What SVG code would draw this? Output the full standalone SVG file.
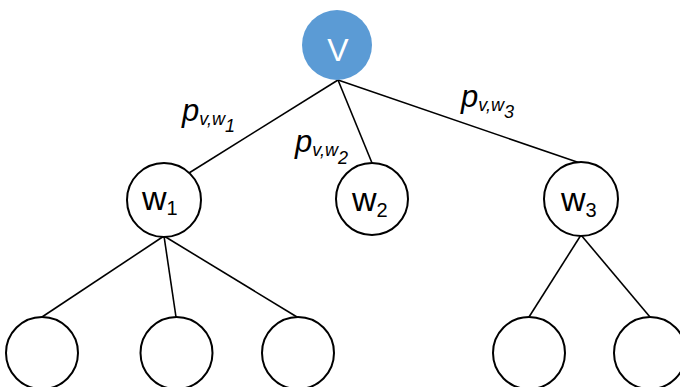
<svg xmlns="http://www.w3.org/2000/svg" width="680" height="387" viewBox="0 0 680 387">
<style>
.n{fill:#fff;stroke:#000;stroke-width:2}
.e{stroke:#000;stroke-width:1.6;fill:none}
.t{font-family:"Liberation Sans",Arial,sans-serif;fill:#000}
.lab{font-family:"Liberation Sans",Arial,sans-serif;font-style:italic;fill:#000}
</style>
<rect width="680" height="387" fill="#fff"/>
<g id="connectors">
<line class="e" x1="338" y1="80" x2="189" y2="173"/>
<line class="e" x1="338" y1="80" x2="372" y2="163"/>
<line class="e" x1="338" y1="80" x2="580" y2="163"/>
<line class="e" x1="164" y1="236" x2="42" y2="317"/>
<line class="e" x1="164" y1="236" x2="176" y2="317"/>
<line class="e" x1="164" y1="236" x2="297" y2="317"/>
<line class="e" x1="581" y1="235" x2="529" y2="317"/>
<line class="e" x1="581" y1="235" x2="650" y2="317"/>
</g>
<g id="labels">
<text class="lab" x="182" y="121" font-size="31">p<tspan font-size="18" dy="4">v,w</tspan><tspan font-size="18" dy="7">1</tspan></text>
<text class="lab" x="295" y="152" font-size="31">p<tspan font-size="18" dy="4">v,w</tspan><tspan font-size="18" dy="8">2</tspan></text>
<text class="lab" x="461" y="107" font-size="31">p<tspan font-size="18" dy="4">v,w</tspan><tspan font-size="18" dy="7">3</tspan></text>
</g>
<g id="v">
<circle cx="337" cy="45" r="35" fill="#5b9bd5"/>
<text class="t" x="338" y="61" font-size="32" text-anchor="middle" style="fill:#fff">V</text>
</g>
<g id="w1">
<circle class="n" cx="164" cy="200" r="37"/>
<text class="t" x="142" y="210" font-size="34">w<tspan font-size="20" dy="5">1</tspan></text>
</g>
<g id="w2">
<circle class="n" cx="372" cy="199" r="36"/>
<text class="t" x="352" y="211" font-size="34">w<tspan font-size="20" dy="6">2</tspan></text>
</g>
<g id="w3">
<circle class="n" cx="581" cy="199" r="37"/>
<text class="t" x="561" y="211" font-size="34">w<tspan font-size="20" dy="6">3</tspan></text>
</g>
<g id="c1"><circle class="n" cx="42" cy="353" r="36"/></g>
<g id="c2"><circle class="n" cx="176.5" cy="353" r="36"/></g>
<g id="c3"><circle class="n" cx="298" cy="353" r="36"/></g>
<g id="c4"><circle class="n" cx="529" cy="353" r="36"/></g>
<g id="c5"><circle class="n" cx="650" cy="353" r="36"/></g>
</svg>
